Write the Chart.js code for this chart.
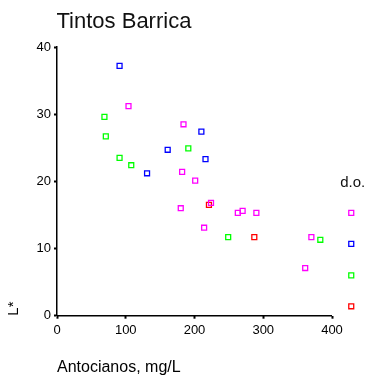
<!DOCTYPE html>
<html lang="es">

<head>
    <meta charset="UTF-8">
    <title>Tintos Barrica</title>
    <style>
        body {
            margin: 0;
            background: #fff;
        }

        #myChart {
            display: block;
        }
    </style>
</head>

<body>
    <canvas id="myChart" width="374" height="383"></canvas>

    <script src="https://cdn.jsdelivr.net/npm/chart.js"></script>

    <script>
        // valores (Antocianos mg/L, L*)
        const blueX = [91, 161, 210, 216, 131];
        const blueY = [37.2, 24.7, 27.4, 23.3, 21.2];

        const greenX = [69, 71, 91, 108, 191, 249, 383];
        const greenY = [29.6, 26.7, 23.5, 22.4, 24.9, 11.7, 11.3];

        const magentaX = [104, 184, 182, 201, 224, 180, 263, 270, 290, 214, 370, 361];
        const magentaY = [31.2, 28.5, 21.4, 20.1, 16.8, 16.0, 15.3, 15.6, 15.3, 13.1, 11.7, 7.1];

        const redX = [221, 287];
        const redY = [16.5, 11.7];

        // marcadores "d.o." a la derecha del eje
        const doLabel = 'd.o.';
        const doX = 428;
        const doY = [15.3, 10.7, 6.0, 1.4];
        const doColors = ['#ff00ff', '#0000ff', '#00ff00', '#ff0000'];

        const xTicks = [0, 100, 200, 300, 400];
        const yTicks = [0, 10, 20, 30, 40];

        const fontFamily = '"Liberation Sans", Arial, sans-serif';

        function toPoints(xs, ys) {
            let pts = [];
            for (let i = 0; i < xs.length; i++) {
                pts.push({ x: xs[i], y: ys[i] });
            }
            return pts;
        }

        function serie(xs, ys, color) {
            return {
                data: toPoints(xs, ys),
                pointStyle: 'rect',
                pointRadius: 3.5,
                pointBorderWidth: 1.3,
                pointBorderColor: color,
                pointBackgroundColor: 'rgba(0,0,0,0)',
                showLine: false
            };
        }

        let doPoints = doY.map(v => ({ x: doX, y: v }));

        // titulo, eje x recortado a 400 y etiqueta d.o.
        const extras = {
            id: 'extras',
            beforeDatasetsDraw(chart) {
                const c = chart.ctx;
                const xs = chart.scales.x;
                const ys = chart.scales.y;
                c.save();
                c.strokeStyle = '#000';
                c.lineWidth = 1.5;
                c.beginPath();
                c.moveTo(xs.getPixelForValue(0), ys.getPixelForValue(0));
                c.lineTo(xs.getPixelForValue(400), ys.getPixelForValue(0));
                c.stroke();
                c.restore();
            },
            afterDraw(chart) {
                const c = chart.ctx;
                const xs = chart.scales.x;
                const ys = chart.scales.y;
                c.save();
                c.fillStyle = '#111';
                c.textBaseline = 'alphabetic';
                c.textAlign = 'left';
                c.font = '22px ' + fontFamily;
                c.fillText('Tintos Barrica', chart.chartArea.left - 0.5, 28);
                c.font = '15px ' + fontFamily;
                c.fillText(doLabel, xs.getPixelForValue(doX) - 11, ys.getPixelForValue(19.2));
                c.restore();
            }
        };

        const ctx = document.getElementById('myChart');

        let config = {
            type: 'scatter',
            data: {
                datasets: [
                    serie(blueX, blueY, '#0000ff'),
                    serie(greenX, greenY, '#00ff00'),
                    serie(magentaX, magentaY, '#ff00ff'),
                    serie(redX, redY, '#ff0000'),
                    {
                        data: doPoints,
                        pointStyle: 'rect',
                        pointRadius: 3.5,
                        pointBorderWidth: 1.3,
                        pointBorderColor: doColors,
                        pointBackgroundColor: 'rgba(0,0,0,0)',
                        showLine: false
                    }
                ]
            },
            options: {
                responsive: false,
                animation: false,
                layout: {
                    padding: { top: 47, right: 14.5, left: 0, bottom: 0 }
                },
                plugins: {
                    legend: { display: false },
                    tooltip: { enabled: false },
                    title: { display: false }
                },
                scales: {
                    x: {
                        type: 'linear',
                        min: 0,
                        max: 440,
                        afterBuildTicks: (scale) => {
                            scale.ticks = xTicks.map(v => ({ value: v }));
                        },
                        afterFit: (scale) => { scale.height = 67.3; },
                        grid: {
                            drawOnChartArea: false,
                            drawTicks: true,
                            tickLength: 3,
                            tickWidth: 2,
                            tickColor: '#000'
                        },
                        border: { display: false },
                        ticks: {
                            color: '#000',
                            padding: 4,
                            maxRotation: 0,
                            font: { family: fontFamily, size: 13 }
                        },
                        title: {
                            display: true,
                            text: 'Antocianos, mg/L',
                            align: 'start',
                            color: '#000',
                            padding: { top: 0, bottom: 6 },
                            font: { family: fontFamily, size: 16 }
                        }
                    },
                    y: {
                        min: 0,
                        max: 40,
                        afterBuildTicks: (scale) => {
                            scale.ticks = yTicks.map(v => ({ value: v }));
                        },
                        afterFit: (scale) => { scale.width = 57; },
                        grid: {
                            drawOnChartArea: false,
                            drawTicks: true,
                            tickLength: 3,
                            tickWidth: 2,
                            tickColor: '#000'
                        },
                        border: { display: true, color: '#000', width: 1.5 },
                        ticks: {
                            color: '#000',
                            padding: 3,
                            font: { family: fontFamily, size: 13 }
                        },
                        title: {
                            display: true,
                            text: 'L*',
                            align: 'start',
                            color: '#000',
                            padding: { top: 5, bottom: 0 },
                            font: { family: fontFamily, size: 15 }
                        }
                    }
                }
            },
            plugins: [extras]
        };

        let myChart = new Chart(ctx, config);
    </script>
</body>

</html>
